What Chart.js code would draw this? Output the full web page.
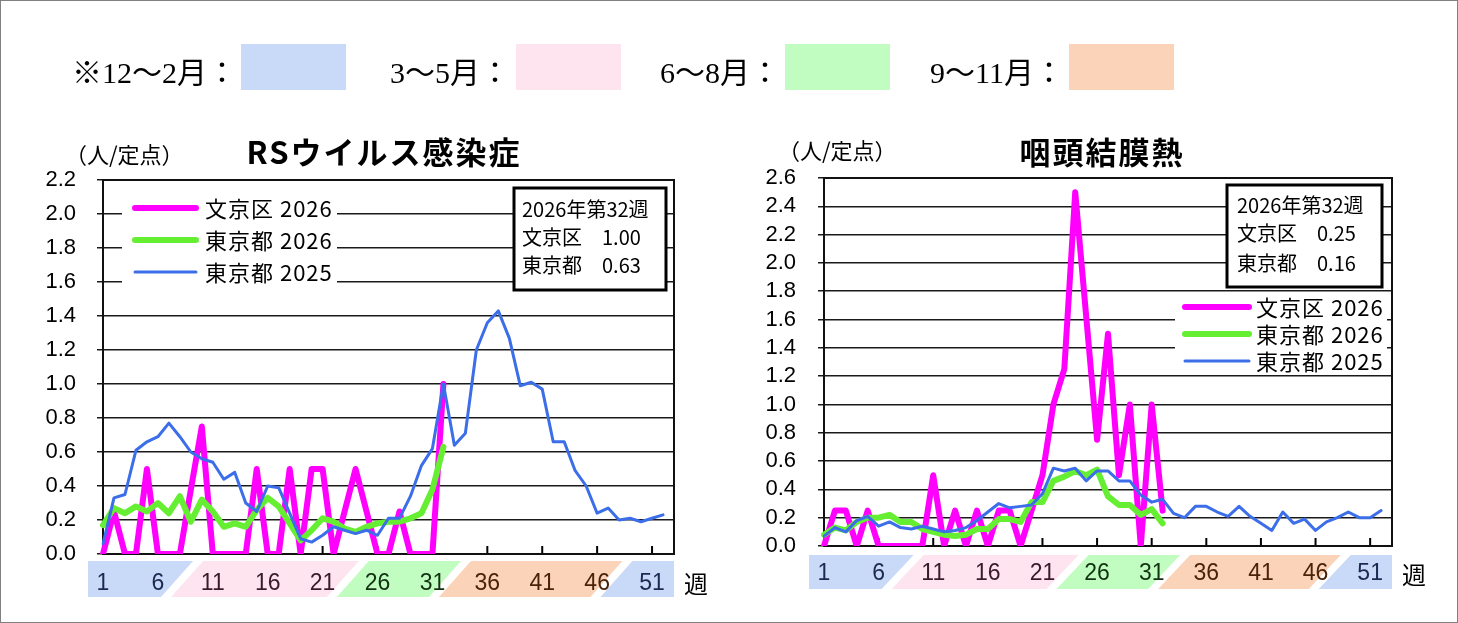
<!DOCTYPE html>
<html lang="ja">
<head>
<meta charset="utf-8">
<title>RSウイルス感染症・咽頭結膜熱</title>
<script src="https://cdn.jsdelivr.net/npm/chart.js@4.4.1/dist/chart.umd.min.js"></script>
<style>
  html, body { margin: 0; padding: 0; background: #fff; }
  #page { position: relative; width: 1458px; height: 623px; overflow: hidden; background: #fff; }
  canvas { position: absolute; top: 0; }
  #c1 { left: 0; }
  #c2 { left: 729px; }
  .frame { position: absolute; left: 0; top: 0; width: 1458px; height: 623px; box-sizing: border-box;
           border: 1px solid #808080; pointer-events: none; }
  .kt { position: absolute; top: 53px; height: 40px; line-height: 40px; font-size: 30px; color: #000;
        font-family: "Liberation Serif", "Noto Sans CJK JP", serif; white-space: nowrap; }
  .kb { position: absolute; top: 44px; width: 105px; height: 46px; }
</style>
</head>
<body>
<div id="page">
  <canvas id="c1" width="729" height="623"></canvas>
  <canvas id="c2" width="729" height="623"></canvas>
  <div id="keys"></div>
  <div class="frame"></div>
</div>
<script>
// weeks on the x axis
const weeks = [1, 2, 3, 4, 5, 6, 7, 8, 9, 10, 11, 12, 13, 14, 15, 16, 17, 18, 19, 20,
  21, 22, 23, 24, 25, 26, 27, 28, 29, 30, 31, 32, 33, 34, 35, 36, 37, 38, 39, 40,
  41, 42, 43, 44, 45, 46, 47, 48, 49, 50, 51, 52, 53];
const xTickLabels = ['1', '6', '11', '16', '21', '26', '31', '36', '41', '46', '51'];
const xTickColors = ['#1b2850', '#1b2850', '#3a1a2a', '#3a1a2a', '#3a1a2a', '#123212',
  '#123212', '#4a2208', '#4a2208', '#4a2208', '#1b2850'];

// seasons (header keys and bands under the x axis)
const seasonNames = ['※12～2月：', '3～5月：', '6～8月：', '9～11月：'];
const seasonColors = ['#c9d9f8', '#fde4ef', '#c1fdc0', '#fbd3b8'];
const seasonEdges = [8.2, 23.3, 32.6, 47.3]; // week where one band turns into the next

const seriesNames = ['文京区 2026', '東京都 2026', '東京都 2025'];
const infoTitle = '2026年第32週';

// RSウイルス感染症 (人/定点)
const rsBunkyo2026 = [0, 0.25, 0, 0, 0.5, 0, 0, 0, 0.38, 0.75, 0, 0, 0, 0, 0.5, 0,
  0, 0.5, 0, 0.5, 0.5, 0, 0.25, 0.5, 0.25, 0, 0, 0.25, 0, 0, 0, 1.0];
const rsTokyo2026 = [0.17, 0.27, 0.24, 0.28, 0.25, 0.30, 0.24, 0.34, 0.19, 0.32, 0.25,
  0.16, 0.18, 0.16, 0.26, 0.33, 0.28, 0.18, 0.08, 0.14, 0.21, 0.19, 0.15, 0.13, 0.16,
  0.18, 0.19, 0.19, 0.21, 0.24, 0.38, 0.63];
const rsTokyo2025 = [0.06, 0.33, 0.35, 0.61, 0.66, 0.69, 0.77, 0.69, 0.60, 0.56, 0.54,
  0.44, 0.48, 0.30, 0.25, 0.40, 0.39, 0.24, 0.09, 0.07, 0.11, 0.16, 0.14, 0.12, 0.14,
  0.11, 0.21, 0.21, 0.34, 0.52, 0.62, 1.00, 0.64, 0.71, 1.20, 1.36, 1.43, 1.27, 0.99,
  1.01, 0.97, 0.66, 0.66, 0.49, 0.40, 0.24, 0.27, 0.20, 0.21, 0.19, 0.21, 0.23];

// 咽頭結膜熱 (人/定点)
const pcfBunkyo2026 = [0, 0.25, 0.25, 0, 0.25, 0, 0, 0, 0, 0, 0.5, 0, 0.25, 0, 0.25, 0,
  0.25, 0.25, 0, 0.25, 0.5, 1.0, 1.25, 2.5, 1.625, 0.75, 1.5, 0.5, 1.0, 0, 1.0, 0.25];
const pcfTokyo2026 = [0.08, 0.13, 0.11, 0.17, 0.20, 0.20, 0.22, 0.17, 0.17, 0.12, 0.10,
  0.08, 0.07, 0.08, 0.12, 0.12, 0.19, 0.19, 0.17, 0.31, 0.31, 0.46, 0.49, 0.53, 0.50,
  0.54, 0.35, 0.29, 0.29, 0.22, 0.26, 0.16];
const pcfTokyo2025 = [0.07, 0.13, 0.10, 0.18, 0.21, 0.14, 0.17, 0.13, 0.12, 0.14, 0.12,
  0.10, 0.11, 0.13, 0.18, 0.24, 0.30, 0.27, 0.28, 0.29, 0.37, 0.55, 0.53, 0.55, 0.46,
  0.53, 0.53, 0.46, 0.46, 0.36, 0.31, 0.33, 0.23, 0.20, 0.28, 0.28, 0.24, 0.21, 0.28,
  0.21, 0.16, 0.11, 0.24, 0.16, 0.19, 0.11, 0.17, 0.20, 0.24, 0.20, 0.20, 0.25];

const JP = '"Noto Sans CJK JP", sans-serif';

// header keys
const keyPos = [[72, 241], [390, 516], [660, 785], [930, 1069]];
const keys = document.getElementById('keys');
seasonNames.forEach((name, i) => {
  const t = document.createElement('div');
  t.className = 'kt';
  t.style.left = keyPos[i][0] + 'px';
  t.textContent = name;
  keys.appendChild(t);
  const b = document.createElement('div');
  b.className = 'kb';
  b.style.left = keyPos[i][1] + 'px';
  b.style.background = seasonColors[i];
  keys.appendChild(b);
});

function decoPlugin(lay) {
  return {
    id: 'deco',
    beforeDraw(chart) {
      const ctx = chart.ctx, xs = chart.scales.x, a = chart.chartArea;
      const top = a.bottom + lay.bandTop, bot = a.bottom + lay.bandBottom;
      const slant = 32, gap = 5;
      const edges = [a.left - 15].concat(seasonEdges.map(w => xs.getPixelForValue(w - 1)), [a.right]);
      const cols = seasonColors.concat([seasonColors[0]]);
      ctx.save();
      for (let i = 0; i < cols.length; i++) {
        const L = edges[i], R = edges[i + 1];
        ctx.beginPath();
        if (i === 0) { ctx.moveTo(L, top); ctx.lineTo(L, bot); }
        else { ctx.moveTo(L + slant / 2 + gap, top); ctx.lineTo(L - slant / 2 + gap, bot); }
        if (i === cols.length - 1) { ctx.lineTo(R, bot); ctx.lineTo(R, top); }
        else { ctx.lineTo(R - slant / 2 - gap, bot); ctx.lineTo(R + slant / 2 - gap, top); }
        ctx.closePath();
        ctx.fillStyle = cols[i];
        ctx.fill();
      }
      ctx.restore();
    },
    beforeDatasetsDraw(chart) {
      const ctx = chart.ctx, xs = chart.scales.x, a = chart.chartArea;
      ctx.save();
      ctx.strokeStyle = '#000';
      ctx.lineWidth = 2;
      weeks.forEach((w, i) => {
        if (i === 0 || !xTickLabels.includes(String(w))) return;
        const px = xs.getPixelForValue(i);
        ctx.beginPath(); ctx.moveTo(px, a.bottom); ctx.lineTo(px, a.bottom - 8); ctx.stroke();
      });
      ctx.strokeStyle = '#111';
      ctx.strokeRect(a.left, a.top, a.right - a.left, a.bottom - a.top);
      ctx.restore();
    },
    afterDraw(chart) {
      const ctx = chart.ctx, a = chart.chartArea, ds = chart.data.datasets;
      ctx.save();
      ctx.fillStyle = '#000';
      ctx.textBaseline = 'middle';
      // title + unit
      ctx.font = 'bold 31px ' + JP;
      ctx.textAlign = 'center';
      ctx.letterSpacing = lay.titleSpacing + 'px';
      ctx.fillText(lay.title, lay.titleX, 152);
      ctx.letterSpacing = '0px';
      ctx.font = '22px ' + JP;
      ctx.textAlign = 'left';
      ctx.fillText('（人/定点）', lay.unitX, lay.unitY);
      ctx.font = '24px ' + JP;
      ctx.fillText('週', a.right + 10, lay.weekY);

      // legend
      const lg = lay.legend;
      ctx.fillStyle = '#fff';
      ctx.fillRect(lg.box[0], lg.box[1], lg.box[2] - lg.box[0], lg.box[3] - lg.box[1]);
      ds.forEach((d, i) => {
        const y = lg.y0 + i * lg.dy;
        ctx.strokeStyle = d.borderColor;
        ctx.lineWidth = d.borderWidth;
        ctx.lineCap = 'round';
        ctx.beginPath(); ctx.moveTo(lg.x0, y); ctx.lineTo(lg.x1, y); ctx.stroke();
        ctx.fillStyle = '#000';
        ctx.font = '22px ' + JP;
        ctx.letterSpacing = '1px';
        ctx.fillText(d.label, lg.tx, y + 1);
        ctx.letterSpacing = '0px';
      });

      // info box with the latest week
      const ib = lay.info;
      ctx.fillStyle = '#fff';
      ctx.fillRect(ib.box[0], ib.box[1], ib.box[2] - ib.box[0], ib.box[3] - ib.box[1]);
      ctx.strokeStyle = '#000';
      ctx.lineWidth = 3;
      ctx.strokeRect(ib.box[0], ib.box[1], ib.box[2] - ib.box[0], ib.box[3] - ib.box[1]);
      ctx.fillStyle = '#000';
      ctx.font = '20px ' + JP;
      ctx.fillText(infoTitle, ib.tx, ib.y[0]);
      [0, 1].forEach(k => {
        const d = ds[k].data;
        ctx.fillText(ds[k].label.split(' ')[0], ib.tx, ib.y[k + 1]);
        ctx.fillText(d[d.length - 1].toFixed(2), ib.vx, ib.y[k + 1]);
      });
      ctx.restore();
    }
  };
}

function makeChart(id, lay, bunkyo, tokyo26, tokyo25) {
  const H = 623, W = 729;
  return new Chart(document.getElementById(id), {
    type: 'line',
    data: {
      labels: weeks,
      datasets: [
        { label: seriesNames[0], data: bunkyo, borderColor: '#ff00ff', borderWidth: 6, order: 3 },
        { label: seriesNames[1], data: tokyo26, borderColor: '#66ee33', borderWidth: 6, order: 2 },
        { label: seriesNames[2], data: tokyo25, borderColor: '#3b6ee8', borderWidth: 3, order: 1 }
      ]
    },
    options: {
      responsive: false,
      animation: false,
      events: [],
      layout: { padding: { top: lay.top, right: W - lay.right, left: 0, bottom: 0 } },
      elements: {
        point: { radius: 0 },
        line: { tension: 0, borderCapStyle: 'round', borderJoinStyle: 'round', fill: false }
      },
      plugins: { legend: { display: false }, title: { display: false }, tooltip: { enabled: false } },
      scales: {
        x: {
          type: 'category',
          offset: false,
          afterFit(s) { s.height = H - lay.bottom; },
          grid: { display: false, drawTicks: false },
          border: { display: true, color: '#000', width: 2 },
          ticks: {
            autoSkip: false, maxRotation: 0, minRotation: 0, padding: lay.xPad,
            font: { family: '"Liberation Sans Narrow", "Liberation Sans", sans-serif', size: 23 },
            color: c => {
              const k = xTickLabels.indexOf(String(weeks[c.index]));
              return k < 0 ? '#000' : xTickColors[k];
            },
            callback: (v, i) => xTickLabels.includes(String(weeks[i])) ? String(weeks[i]) : ''
          }
        },
        y: {
          min: 0, max: lay.yMax,
          afterFit(s) { s.width = lay.left; },
          grid: { color: '#1a1a1a', lineWidth: 1.5, tickLength: 6, drawTicks: true },
          border: { display: true, color: '#000', width: 2 },
          ticks: {
            stepSize: 0.2, autoSkip: false, padding: lay.yPad, color: '#000',
            font: { family: '"Liberation Sans", sans-serif', size: 22 },
            callback: v => v.toFixed(1)
          }
        }
      }
    },
    plugins: [decoPlugin(lay)]
  });
}

makeChart('c1', {
  left: 103, right: 674, top: 180, bottom: 554, yMax: 2.2, xPad: 16, yPad: 21,
  bandTop: 7, bandBottom: 43, weekY: 584,
  title: 'RSウイルス感染症', titleX: 384, titleSpacing: 2, unitX: 65, unitY: 155,
  legend: { box: [122, 193, 337, 288], x0: 135, x1: 196, tx: 205, y0: 208, dy: 32 },
  info: { box: [514, 188, 666, 290], tx: 522, vx: 602, y: [209, 237, 265] }
}, rsBunkyo2026, rsTokyo2026, rsTokyo2025);

makeChart('c2', {
  left: 95, right: 663, top: 178, bottom: 546, yMax: 2.6, xPad: 14, yPad: 22,
  bandTop: 9, bandBottom: 43, weekY: 575,
  title: '咽頭結膜熱', titleX: 373, titleSpacing: 2, unitX: 49, unitY: 151,
  legend: { box: [446, 295, 658, 372], x0: 456, x1: 520, tx: 527, y0: 307, dy: 27 },
  info: { box: [498, 185, 653, 287], tx: 508, vx: 588, y: [205, 233, 263] }
}, pcfBunkyo2026, pcfTokyo2026, pcfTokyo2025);
</script>
</body>
</html>
